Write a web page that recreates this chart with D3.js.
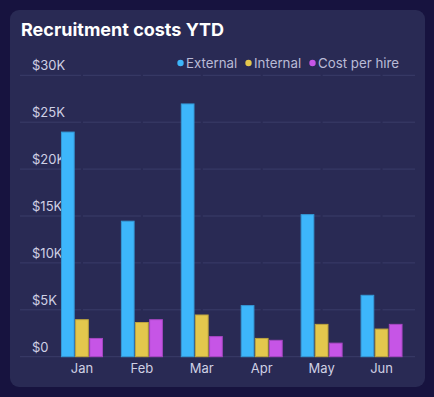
<!DOCTYPE html>
<html>
<head>
<meta charset="utf-8">
<script src="https://cdn.jsdelivr.net/npm/d3@7"></script>
<style>
  html, body { margin: 0; padding: 0; background: #17133f; }
  svg { display: block; }
</style>
</head>
<body>
<div id="chart"></div>
<script>
const months = ['Jan', 'Feb', 'Mar', 'Apr', 'May', 'Jun']
const seriesNames = ['External', 'Internal', 'Cost per hire']
const external = [24000, 14500, 27000, 5500, 15200, 6600]
const internal = [4000, 3700, 4500, 2000, 3500, 3000]
const costPerHire = [2000, 4000, 2200, 1800, 1500, 3500]
const yTicks = [0, 5000, 10000, 15000, 20000, 25000, 30000]
const colors = ['#3db6fb', '#e3c74d', '#c655e6']
const strokes = ['#3598d6', '#bda43f', '#a547c2']

const width = 434, height = 397
const values = [external, internal, costPerHire]

const svg = d3.select('#chart').append('svg')
  .attr('width', width).attr('height', height)

// 卡片背景
svg.append('rect')
  .attr('x', 10).attr('y', 10)
  .attr('width', 415).attr('height', 377)
  .attr('rx', 9).attr('ry', 9)
  .attr('fill', '#292a54')

svg.append('text')
  .attr('x', 21).attr('y', 36)
  .attr('fill', '#ffffff')
  .attr('font-family', 'Inter, sans-serif')
  .attr('font-weight', 700)
  .attr('font-size', '18px')
  .text('Recruitment costs YTD')

const x = d3.scaleBand().domain(months).range([52, 411.5])
const x1 = d3.scaleBand().domain(seriesNames).range([0, 42]).paddingInner(0.03)
const y = d3.scaleLinear().domain([0, 30000]).range([356.7, 75.3])

// 网格线（在各月份中心处断开）
const centers = months.map(m => x(m) + x.bandwidth() / 2)
const breaks = [20, ...centers, 415]
const grid = svg.append('g')
yTicks.forEach(t => {
  for (let i = 0; i < breaks.length - 1; i++) {
    grid.append('line')
      .attr('x1', breaks[i] + (i === 0 ? 0 : 1))
      .attr('x2', breaks[i + 1] - (i === breaks.length - 2 ? 0 : 1))
      .attr('y1', y(t)).attr('y2', y(t))
      .attr('stroke', '#3a3c68')
      .attr('stroke-width', 1)
  }
})

// y轴标签
svg.append('g').selectAll('text')
  .data(yTicks)
  .join('text')
  .attr('x', 32)
  .attr('y', d => y(d) - 5)
  .attr('fill', '#cfd0e4')
  .attr('font-family', 'Inter, sans-serif')
  .attr('font-size', '13px')
  .text(d => d === 0 ? '$0' : `$${d / 1000}K`)

// 柱子
const groups = svg.append('g').selectAll('g')
  .data(months)
  .join('g')
  .attr('transform', d => `translate(${x(d) + x.bandwidth() / 2 - 21}, 0)`)

groups.selectAll('rect')
  .data((m, i) => seriesNames.map((s, j) => ({ s, j, v: values[j][i] })))
  .join('rect')
  .attr('x', d => x1(d.s) + 0.5)
  .attr('width', x1.bandwidth() - 1)
  .attr('y', d => y(d.v) + 0.5)
  .attr('height', d => y(0) - y(d.v) - 0.5)
  .attr('fill', d => colors[d.j])
  .attr('stroke', d => strokes[d.j])
  .attr('stroke-width', 1)

// x轴标签
svg.append('g').selectAll('text')
  .data(months)
  .join('text')
  .attr('x', d => x(d) + x.bandwidth() / 2)
  .attr('y', 373)
  .attr('text-anchor', 'middle')
  .attr('fill', '#cfd0e4')
  .attr('font-family', 'Inter, sans-serif')
  .attr('font-size', '13px')
  .text(d => d)

// 图例
const legendX = [180.5, 248.5, 312.5]
const legend = svg.append('g').selectAll('g')
  .data(seriesNames)
  .join('g')
  .attr('transform', (d, i) => `translate(${legendX[i]}, 63)`)
legend.append('circle')
  .attr('r', 3.2)
  .attr('fill', (d, i) => colors[i])
legend.append('text')
  .attr('x', 5.5).attr('y', 4.5)
  .attr('fill', '#b9bad6')
  .attr('font-family', 'Inter, sans-serif')
  .attr('font-size', '13.3px')
  .text(d => d)
</script>
</body>
</html>
